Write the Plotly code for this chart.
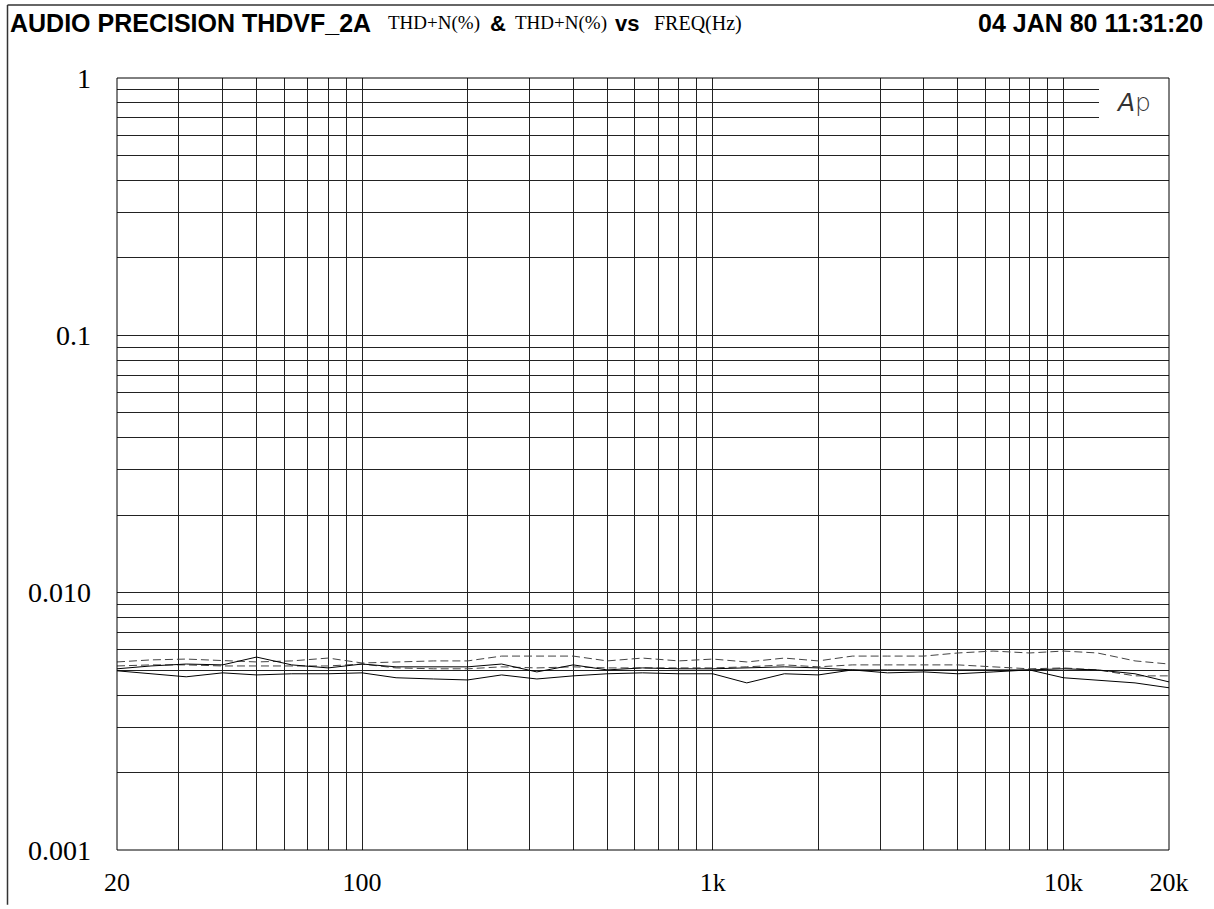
"""Audio Precision THD+N vs frequency sweep, redrawn with Plotly."""

import plotly.graph_objects as go

# 1/3-octave sweep points (Hz)
freq_hz = [20, 25, 31.5, 40, 50, 63, 80, 100, 125, 160, 200, 250, 315, 400, 500, 630,
           800, 1000, 1250, 1600, 2000, 2500, 3150, 4000, 5000, 6300, 8000, 10000,
           12500, 16000, 20000]

# THD+N (%) -- two solid and two dashed curves
thdn_solid_a = [0.00506, 0.00519, 0.00528, 0.00524, 0.00562, 0.00524, 0.00510, 0.00528,
                0.00515, 0.00515, 0.00515, 0.00528, 0.00492, 0.00524, 0.00501, 0.00510,
                0.00506, 0.00506, 0.00510, 0.00515, 0.00510, 0.00501, 0.00501, 0.00501,
                0.00501, 0.00501, 0.00501, 0.00506, 0.00501, 0.00484, 0.00450]
thdn_solid_b = [0.00497, 0.00484, 0.00471, 0.00488, 0.00479, 0.00484, 0.00484, 0.00488,
                0.00467, 0.00462, 0.00458, 0.00479, 0.00462, 0.00475, 0.00484, 0.00488,
                0.00484, 0.00484, 0.00446, 0.00484, 0.00479, 0.00501, 0.00488, 0.00492,
                0.00484, 0.00492, 0.00501, 0.00467, 0.00458, 0.00446, 0.00427]
thdn_dash_a = [0.00538, 0.00548, 0.00552, 0.00543, 0.00538, 0.00543, 0.00557, 0.00533,
               0.00538, 0.00543, 0.00543, 0.00567, 0.00567, 0.00567, 0.00543, 0.00557,
               0.00543, 0.00552, 0.00538, 0.00557, 0.00543, 0.00567, 0.00567, 0.00567,
               0.00583, 0.00593, 0.00583, 0.00593, 0.00583, 0.00543, 0.00528]
thdn_dash_b = [0.00519, 0.00524, 0.00524, 0.00519, 0.00519, 0.00519, 0.00519, 0.00528,
               0.00510, 0.00506, 0.00506, 0.00515, 0.00510, 0.00515, 0.00510, 0.00510,
               0.00510, 0.00510, 0.00515, 0.00524, 0.00515, 0.00524, 0.00524, 0.00524,
               0.00524, 0.00515, 0.00506, 0.00510, 0.00501, 0.00475, 0.00475]

# axis labels
x_label_vals = [20, 100, 1000, 10000, 20000]
x_label_text = ["20", "100", "1k", "10k", "20k"]
y_label_vals = [0.001, 0.01, 0.1, 1]
y_label_text = ["0.001", "0.010", "0.1", "1"]

W, H = 1214, 909
L, R, T, B = 117, 45, 78, 55
SERIF = "Liberation Serif, Times New Roman, serif"
SANS_B = "Liberation Sans, Arial, sans-serif"


def px_x(px):
    return (px - L) / (W - L - R)


def px_y(py):
    return (H - B - py) / (H - T - B)


# every 1-2-...-9 decade line for the log grid
x_grid = sorted({m * 10 ** e for e in range(1, 5) for m in range(1, 10)
                 if 20 <= m * 10 ** e <= 20000} | {20000})
y_grid = sorted({round(m * 10.0 ** e, 6) for e in range(-3, 0) for m in range(1, 10)} | {1})

x_text = [x_label_text[x_label_vals.index(v)] if v in x_label_vals else "" for v in x_grid]
y_text = [y_label_text[y_label_vals.index(v)] if v in y_label_vals else "" for v in y_grid]

fig = go.Figure()
for ys, dash, color in [(thdn_dash_a, "dash", "#444"), (thdn_dash_b, "dash", "#444"),
                        (thdn_solid_a, "solid", "#000"), (thdn_solid_b, "solid", "#000")]:
    fig.add_trace(go.Scatter(x=freq_hz, y=ys, mode="lines",
                             line=dict(color=color, width=1, dash=dash if dash == "solid" else "8px,4px"),
                             showlegend=False, hoverinfo="skip"))

fig.update_xaxes(type="log", range=[1.30103, 4.30103], tickmode="array", tickvals=x_grid,
                 ticktext=x_text, showgrid=True, gridcolor="#222", gridwidth=1,
                 ticks="", showline=False, zeroline=False, ticklabelstandoff=14,
                 tickfont=dict(family=SERIF, size=26, color="#000"))
fig.update_yaxes(type="log", range=[-3, 0], tickmode="array", tickvals=y_grid,
                 ticktext=y_text, showgrid=True, gridcolor="#222", gridwidth=1,
                 ticks="", showline=False, zeroline=False, ticklabelstandoff=25,
                 tickfont=dict(family=SERIF, size=28, color="#000"))

shapes = [
    # blank box behind the Ap logo
    dict(type="rect", xref="paper", yref="y", x0=px_x(1099), x1=1.0, y0=0.615, y1=0.99,
         fillcolor="white", line=dict(width=0), layer="above"),
    # plot frame
    dict(type="rect", xref="paper", yref="paper", x0=0, x1=1, y0=0, y1=1,
         line=dict(color="#000", width=1), layer="above"),
    # page frame (top and left edges)
    dict(type="line", xref="paper", yref="paper", x0=px_x(7.5), x1=px_x(W), y0=px_y(4.5), y1=px_y(4.5),
         line=dict(color="#333", width=1.5)),
    dict(type="line", xref="paper", yref="paper", x0=px_x(7.5), x1=px_x(7.5), y0=px_y(4.5), y1=px_y(H),
         line=dict(color="#333", width=1.5)),
]

title_y = px_y(23)
annotations = [
    dict(text="<b>AUDIO PRECISION THDVF_2A</b>", x=px_x(8), font=dict(family=SANS_B, size=25)),
    dict(text="THD+N(%)", x=px_x(386), font=dict(family=SERIF, size=19)),
    dict(text="<b>&</b>", x=px_x(488), font=dict(family=SANS_B, size=22)),
    dict(text="THD+N(%)", x=px_x(513), font=dict(family=SERIF, size=19)),
    dict(text="<b>vs</b>", x=px_x(613), font=dict(family=SANS_B, size=22)),
    dict(text="FREQ(Hz)", x=px_x(652), font=dict(family=SERIF, size=20)),
]
for a in annotations:
    a.update(xref="paper", yref="paper", y=title_y, xanchor="left", yanchor="middle", showarrow=False)
    a["font"]["color"] = "#000"
annotations.append(dict(text="<b>04 JAN 80 11:31:20</b>", x=px_x(1205), y=title_y, xref="paper",
                        yref="paper", xanchor="right", yanchor="middle", showarrow=False,
                        font=dict(family=SANS_B, size=25, color="#000")))
annotations.append(dict(text="<i>A</i>p", x=px_x(1133), y=px_y(103), xref="paper", yref="paper",
                        xanchor="center", yanchor="middle", showarrow=False,
                        font=dict(family="DejaVu Sans", size=25, color="#333", weight=300)))

fig.update_layout(
    width=W, height=H,
    margin=dict(l=L, r=R, t=T, b=B),
    paper_bgcolor="white", plot_bgcolor="white",
    shapes=shapes, annotations=annotations,
    showlegend=False,
)

fig.write_html("out.html", config={"displayModeBar": False},
               post_script="document.body.style.margin='0';")
